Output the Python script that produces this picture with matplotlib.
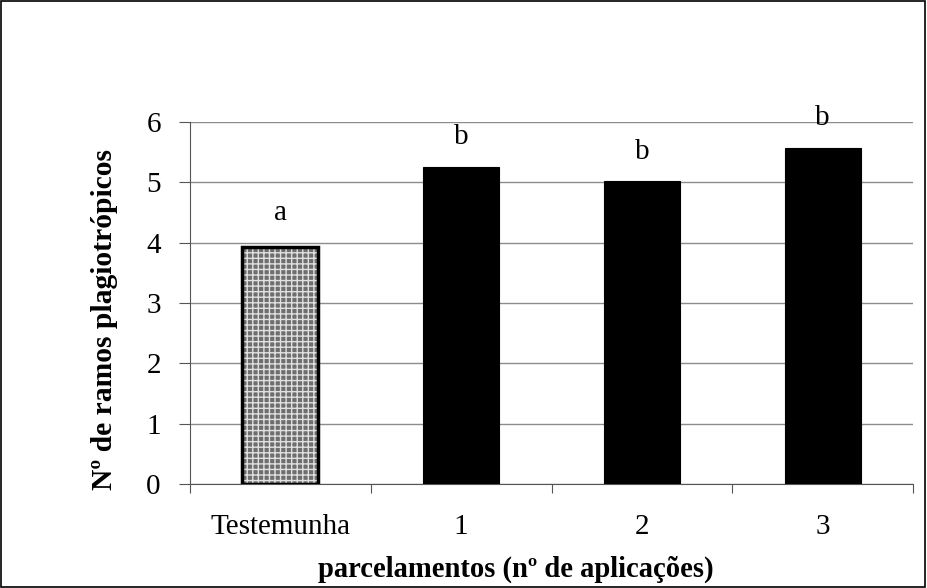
import numpy as np
import matplotlib.pyplot as plt
from matplotlib.patches import Rectangle

plt.rcParams['font.family'] = ['Liberation Serif', 'DejaVu Serif']

# dados
categorias = ['Testemunha', '1', '2', '3']
valores = [3.93, 5.25, 5.02, 5.57]
letras = ['a', 'b', 'b', 'b']
letra_y = [4.49, 5.75, 5.50, 6.07]

fig = plt.figure(figsize=(9.27, 5.88), dpi=100)
ax = fig.add_axes([0.205, 0.177, 0.78, 0.6155])

x = np.arange(len(categorias))
largura = 0.42

# Testemunha com textura cinza, demais pretos
ax.bar(x[0], valores[0], largura, color='#6e6e6e', edgecolor='#e0e0e0',
       hatch='+++', linewidth=0, zorder=3)
ax.bar(x[0], valores[0], largura, fill=False, edgecolor='black',
       linewidth=2.5, zorder=4)
ax.bar(x[1:], valores[1:], largura, color='black', edgecolor='black',
       linewidth=0.8, zorder=3)

for xi, l, yl in zip(x, letras, letra_y):
    ax.text(xi, yl, l, ha='center', va='center', fontsize=21, zorder=5)

ax.set_xlim(-0.5, 3.5)
ax.set_ylim(0, 6)
ax.set_yticks(range(7))
ax.tick_params(axis='y', labelsize=21, length=8, width=0.8, color='#555555', pad=13)

ax.set_xticks(np.arange(-0.5, 4, 1))
ax.set_xticklabels([])
ax.tick_params(axis='x', which='major', length=6.5, width=0.8, color='#555555')
ax.set_xticks(x, minor=True)
ax.set_xticklabels(categorias, minor=True)
ax.tick_params(axis='x', which='minor', length=0, labelsize=21, pad=22)

ax.yaxis.grid(True, color='#8c8c8c', linewidth=1)
ax.set_axisbelow(True)
for s in ['top', 'right']:
    ax.spines[s].set_visible(False)
ax.spines['left'].set_color('#555555')
ax.spines['bottom'].set_color('#555555')

ax.set_ylabel('Nº de ramos plagiotrópicos', fontsize=21.3, fontweight='bold',
              va='center', ha='center')
ax.yaxis.set_label_coords(-0.118, 0.453)
ax.set_xlabel('parcelamentos (nº de aplicações)', fontsize=20.6, fontweight='bold',
              va='baseline', ha='center')
ax.xaxis.set_label_coords(0.451, -0.257)

# moldura do grafico
fig.patches.append(Rectangle((0.001, 0.001), 0.997, 0.997, transform=fig.transFigure,
                             fill=False, edgecolor='black', linewidth=1.2))

fig.savefig('out.png', dpi=100)
